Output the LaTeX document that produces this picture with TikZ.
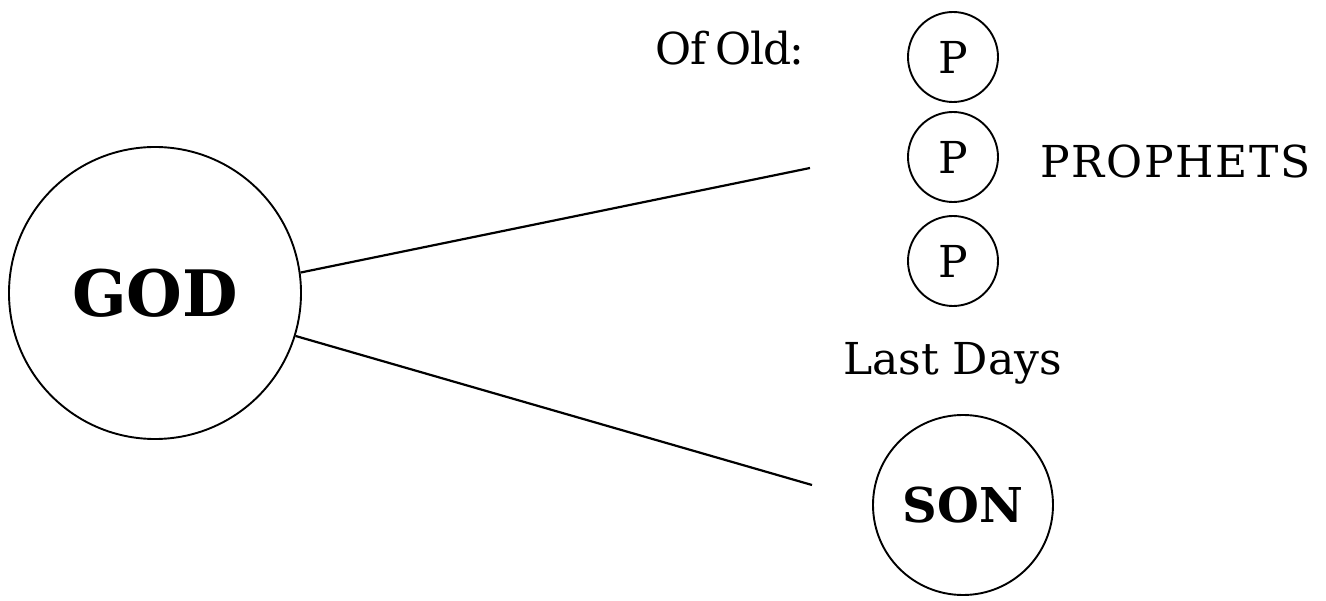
\documentclass[tikz,border=0pt]{standalone}
\usepackage{fontspec}
\setmainfont{DejaVu Serif}
\begin{document}
\begin{tikzpicture}[x=1pt,y=-1pt,
  ring/.style={circle,draw,line width=1.9pt,inner sep=0pt},
  lbl/.style={inner sep=0pt,font=\fontsize{44}{44}\selectfont},
  link/.style={line width=2.2pt}]
\useasboundingbox (0,0) rectangle (1326,601);
\node[ring,minimum size=292pt,font=\fontsize{64}{64}\selectfont\bfseries] (god) at (155,293) {GOD};
\node[ring,minimum size=90pt,font=\fontsize{44}{44}\selectfont] (p1) at (953,57) {P};
\node[ring,minimum size=90pt,font=\fontsize{44}{44}\selectfont] (p2) at (953,157) {P};
\node[ring,minimum size=90pt,font=\fontsize{44}{44}\selectfont] (p3) at (953,261) {P};
\node[ring,minimum size=180pt,font=\fontsize{48}{48}\selectfont\bfseries] (son) at (963,505) {SON};
\node[lbl,anchor=base east] (old) at (805,65) {\addfontfeatures{LetterSpace=-3}Of\hspace{-4pt} Old:};
\node[lbl,anchor=base west] (proph) at (1040,178) {\addfontfeatures{LetterSpace=4}PROPHETS};
\node[lbl,anchor=base west] (last) at (843,375) {Last Days};
\coordinate (e1) at (810,168);
\coordinate (e2) at (812,485);
\draw[link] (god.8.9) -- (e1);
\draw[link] (god.-17) -- (e2);
\end{tikzpicture}
\end{document}
